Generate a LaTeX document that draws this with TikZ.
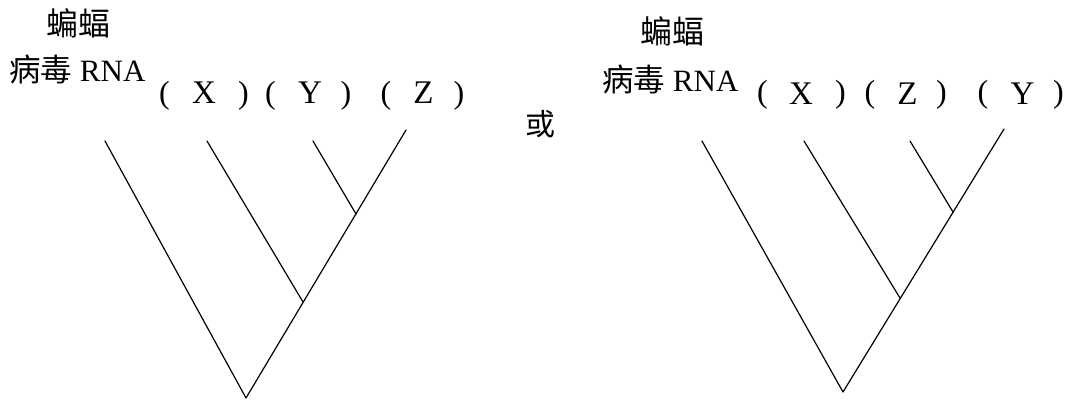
\documentclass[tikz,border=0pt]{standalone}
\usepackage{fontspec}
\setmainfont{Liberation Serif}
\newfontfamily\cjk{Noto Sans CJK SC}
\begin{document}
\begin{tikzpicture}[x=1pt,y=-1pt,
  branch/.style={line width=1.2pt, line cap=round, line join=round},
  leaf/.style={inner sep=0pt, font=\fontsize{33}{36}\selectfont},
  par/.style={inner sep=0pt, font=\fontsize{32}{36}\selectfont},
  head/.style={inner sep=0pt, font=\fontsize{31}{34}\selectfont},
  cjklab/.style={inner sep=0pt, font=\fontsize{32}{36}\selectfont\cjk}]
\useasboundingbox (0,0) rectangle (1072,402);

% ---------- left tree ----------
\node[cjklab] (bat1) at (78.5,23.5) {蝙蝠};
\node[head, anchor=base west] (rna1) at (9,81) {{\cjk\fontsize{31.5}{34}\selectfont 病毒} RNA};
\node[par] (lp1a) at (164.5,96) {(};
\node[leaf] (lx1) at (204,93) {X};
\node[par] (rp1a) at (243.5,96) {)};
\node[par] (lp1b) at (270.5,96) {(};
\node[leaf] (ly1) at (310,93) {Y};
\node[par] (rp1b) at (346,96) {)};
\node[par] (lp1c) at (386,96) {(};
\node[leaf] (lz1) at (423.5,93) {Z};
\node[par] (rp1c) at (459,96) {)};

\coordinate (a1) at (105,141);
\coordinate (a2) at (207,141);
\coordinate (a3) at (313,141);
\coordinate (a4) at (406,130);
\coordinate (an1) at (356,214);
\coordinate (an2) at (303,302);
\coordinate (ar) at (246,398);
\draw[branch] (a1) -- (ar) -- (a4);
\draw[branch] (a2) -- (an2);
\draw[branch] (a3) -- (an1);

% ---------- or ----------
\node[cjklab, font=\fontsize{30}{34}\selectfont\cjk] (huo) at (540,124.5) {或};

% ---------- right tree ----------
\node[cjklab] (bat2) at (672,31) {蝙蝠};
\node[head, anchor=base west] (rna2) at (602,91) {{\cjk\fontsize{31.5}{34}\selectfont 病毒} RNA};
\node[par] (lp2a) at (762.5,95) {(};
\node[leaf] (lx2) at (801,94) {X};
\node[par] (rp2a) at (840.5,95) {)};
\node[par] (lp2b) at (870,95) {(};
\node[leaf] (lz2) at (907.5,94) {Z};
\node[par] (rp2b) at (941.5,95) {)};
\node[par] (lp2c) at (983,95) {(};
\node[leaf] (ly2) at (1022.5,94) {Y};
\node[par] (rp2c) at (1058.5,95) {)};

\coordinate (b1) at (702,141);
\coordinate (b2) at (804,141);
\coordinate (b3) at (910,141);
\coordinate (b4) at (1004,129);
\coordinate (bn1) at (953,212);
\coordinate (bn2) at (900,298);
\coordinate (br) at (843,392);
\draw[branch] (b1) -- (br) -- (b4);
\draw[branch] (b2) -- (bn2);
\draw[branch] (b3) -- (bn1);
\end{tikzpicture}
\end{document}
